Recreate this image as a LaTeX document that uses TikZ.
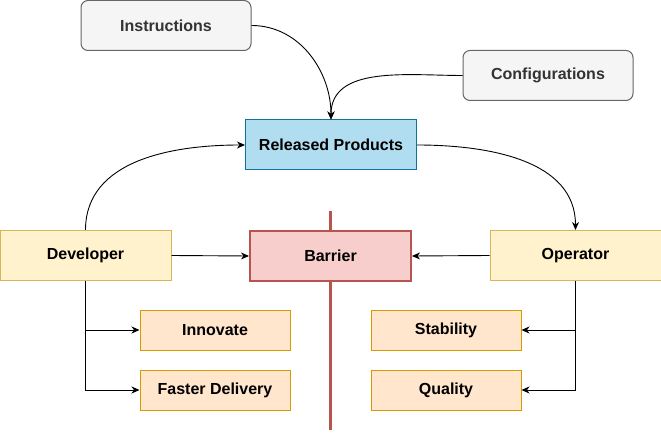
\documentclass[tikz,border=0pt]{standalone}
\usepackage{fontspec}
\setmainfont{Liberation Sans}
\usepackage{tikz}
\usetikzlibrary{arrows.meta,backgrounds,calc}
\definecolor{greyfill}{HTML}{F5F5F5}
\definecolor{greyline}{HTML}{666666}
\definecolor{greytext}{HTML}{333333}
\definecolor{bluefill}{HTML}{B1DDF0}
\definecolor{blueline}{HTML}{10739E}
\definecolor{redfill}{HTML}{F8CECC}
\definecolor{redline}{HTML}{B85450}
\definecolor{yellowfill}{HTML}{FFF2CC}
\definecolor{yellowline}{HTML}{D6B656}
\definecolor{orangefill}{HTML}{FFE6CC}
\definecolor{orangeline}{HTML}{D79B00}
\tikzset{
  box/.style={draw, line width=1pt, inner sep=0pt, font=\fontsize{16}{19}\selectfont\bfseries},
  input/.style={box, rounded corners=7pt, fill=greyfill, draw=greyline, text=greytext, minimum width=170pt, minimum height=50pt},
  product/.style={box, fill=bluefill, draw=blueline, minimum width=171pt, minimum height=50pt},
  role/.style={box, fill=yellowfill, draw=yellowline, minimum width=171pt, minimum height=50pt},
  wall/.style={box, line width=2pt, fill=redfill, draw=redline, minimum width=161pt, minimum height=50pt},
  goal/.style={box, fill=orangefill, draw=orangeline, minimum width=150pt, minimum height=40pt},
  link/.style={-{Stealth[length=8pt,width=7pt,inset=2.5pt]}, line width=0.9pt}
}

\begin{document}
\begin{tikzpicture}[x=1pt,y=1pt]
\useasboundingbox (0,0) rectangle (661,434);
\draw[redline, line width=3pt] (330,223) -- (330,4);
\node[input] (instr) at (166,408.5) {Instructions};
\node[input] (config) at (548,358.5) {Configurations};
\node[product] (released) at (331,289) {Released Products};
\node[role] (dev) at (85.5,178.5) {Developer};
\node[wall] (barrier) at (330.5,178) {Barrier};
\node[role] (op) at (575.5,178.5) {Operator};
\node[goal] (innovate) at (215,104) {Innovate};
\node[goal] (faster) at (215,44) {Faster Delivery};
\node[goal] (stab) at (446,104) {Stability};
\node[goal] (quality) at (446,44) {Quality};
\draw[link] (instr.east) to [out=0,in=90] (released.north);
\draw[link] (config.west) to [out=180,in=90] (released.north);
\draw[link] (dev.north) to [out=90,in=180] (released.west);
\draw[link] (released.east) to [out=0,in=90] (op.north);
\draw[link] (dev.east) -- (barrier.west);
\draw[link] (op.west) -- (barrier.east);
\draw[link] (dev.south) |- (innovate.west);
\draw[link] (dev.south) |- (faster.west);
\draw[link] (op.south) |- (stab.east);
\draw[link] (op.south) |- (quality.east);
\end{tikzpicture}
\end{document}
